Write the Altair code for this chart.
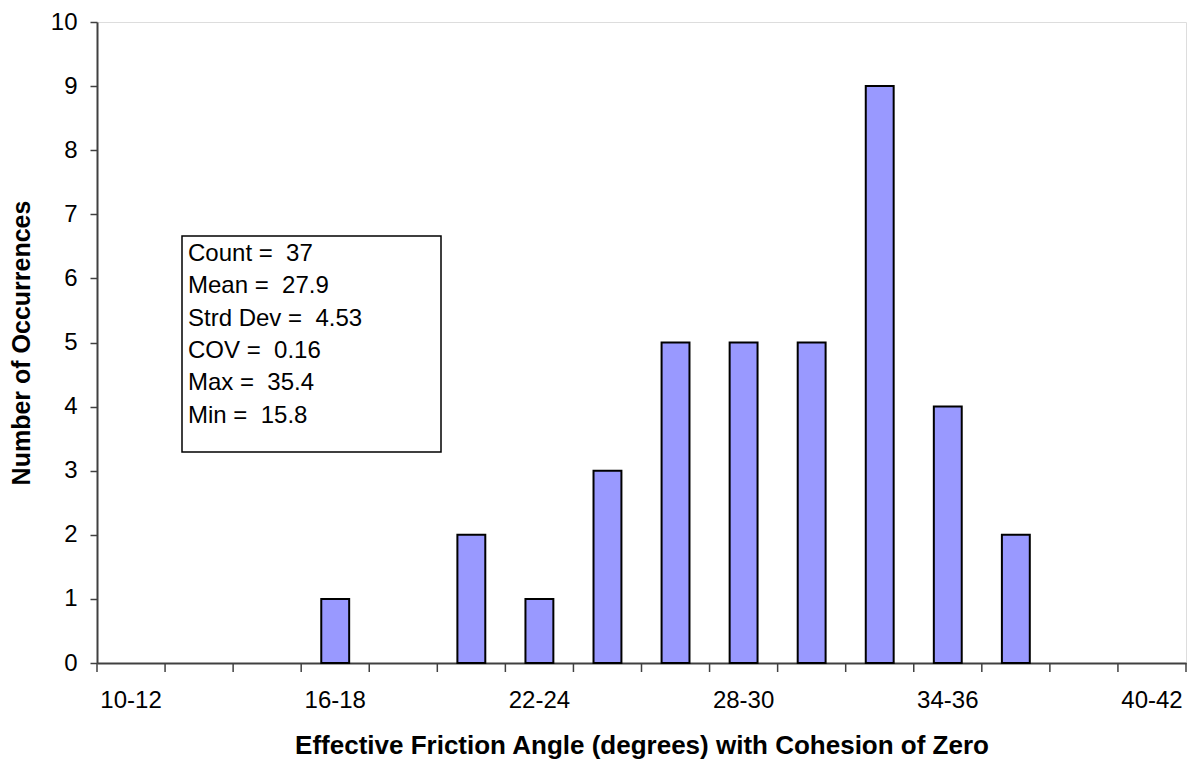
import altair as alt
import pandas as pd

categories = ["10-12", "12-14", "14-16", "16-18", "18-20", "20-22", "22-24", "24-26",
              "26-28", "28-30", "30-32", "32-34", "34-36", "36-38", "38-40", "40-42"]
counts = [0, 0, 0, 1, 0, 2, 1, 3, 5, 5, 5, 9, 4, 2, 0, 0]
labeled = ["10-12", "16-18", "22-24", "28-30", "34-36", "40-42"]
stat_names = ["Count", "Mean", "Strd Dev", "COV", "Max", "Min"]
stat_values = ["37", "27.9", "4.53", "0.16", "35.4", "15.8"]

df = pd.DataFrame({"cat": categories, "n": counts})
stats_text = [f"{n} =\u00a0 {v}" for n, v in zip(stat_names, stat_values)]

FONT = "Liberation Sans"
label_list = "[" + ",".join(f"'{c}'" for c in labeled) + "]"
xscale = alt.Scale(domain=categories, paddingInner=0, paddingOuter=0)

x_enc = alt.X("cat:N", sort=categories, scale=xscale,
              axis=alt.Axis(title="Effective Friction Angle (degrees) with Cohesion of Zero",
                            labelAngle=0, ticks=False,
                            labelExpr=f"indexof({label_list}, datum.value) >= 0 ? datum.label : ''",
                            labelFontSize=24, labelFont=FONT, labelColor="black",
                            labelPadding=25,
                            domainColor="#404040", domainWidth=2,
                            titleFont=FONT, titleFontSize=26, titleFontWeight="bold",
                            titleColor="black", titlePadding=20))
y_enc = alt.Y("n:Q", scale=alt.Scale(domain=[0, 10]),
              axis=alt.Axis(title="Number of Occurrences", values=list(range(11)),
                            labelFontSize=24, labelFont=FONT, labelColor="black",
                            labelPadding=13, tickSize=7, tickColor="#404040", tickWidth=1.5,
                            domainColor="#404040", domainWidth=2, grid=False,
                            titleFont=FONT, titleFontSize=25, titleFontWeight="bold",
                            titleColor="black", titlePadding=16))

bars = alt.Chart(df).transform_filter("datum.n > 0").mark_bar(
    color="#9999FF", stroke="black", strokeWidth=2,
    width=alt.RelativeBandSize(0.41)).encode(x=x_enc, y=y_enc)

tick_df = pd.DataFrame({"cat": categories})
ticks_end = alt.Chart(tick_df).mark_rule(color="#404040", strokeWidth=1.5).encode(
    x=alt.X("cat:N", sort=categories, scale=xscale, bandPosition=1),
    y=alt.value(641), y2=alt.value(650))
ticks_start = alt.Chart(tick_df.iloc[:1]).mark_rule(color="#404040", strokeWidth=1.5).encode(
    x=alt.X("cat:N", sort=categories, scale=xscale, bandPosition=0),
    y=alt.value(641), y2=alt.value(650))

box = alt.Chart(pd.DataFrame({"k": [0]})).mark_rect(fill="white", stroke="black", strokeWidth=1.5).encode(
    x=alt.value(85), x2=alt.value(344), y=alt.value(214), y2=alt.value(430))

txt = alt.Chart(pd.DataFrame({"k": [0]})).mark_text(
    align="left", baseline="top", fontSize=24, font=FONT, lineHeight=32.3, color="black"
).encode(x=alt.value(91), y=alt.value(220), text=alt.value(stats_text))

chart = alt.layer(bars, ticks_end, ticks_start, box, txt).properties(
    width=1089, height=641,
    autosize=alt.AutoSizeParams(type="none"),
    padding={"left": 89, "top": 14, "right": 4, "bottom": 102},
).configure_view(stroke="#808080", strokeWidth=2).configure(background="white")

chart.save("out.html", embed_options={"renderer": "svg", "actions": False})
